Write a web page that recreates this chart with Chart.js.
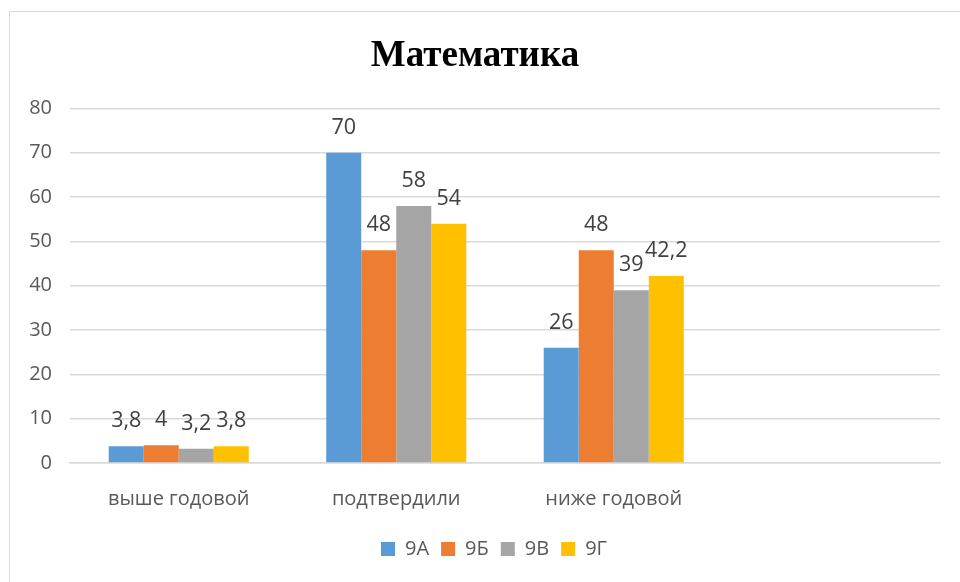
<!DOCTYPE html>
<html>
<head>
<meta charset="utf-8">
<script src="https://cdn.jsdelivr.net/npm/chart.js@4.4.0/dist/chart.umd.min.js"></script>
<style>
  html, body { margin:0; padding:0; background:#fff; }
  .frame { position:absolute; left:9px; top:11px; width:980px; height:600px; border:1px solid #d9d9d9; box-sizing:border-box; }
  .wrap { position:absolute; left:0; top:0; width:960px; height:582px; }
</style>
</head>
<body>
<div class="frame"></div>
<div class="wrap"><canvas id="chart"></canvas></div>
<script>
// -- DATA
const categories = ['выше годовой', 'подтвердили', 'ниже годовой', ''];
const series9A = [3.8, 70, 26, null];
const series9B = [4, 48, 48, null];
const series9V = [3.2, 58, 39, null];
const series9G = [3.8, 54, 42.2, null];
const seriesNames = ['9А', '9Б', '9В', '9Г'];
const yTicks = [0, 10, 20, 30, 40, 50, 60, 70, 80];

const colors = ['#5B9BD5', '#ED7D31', '#A5A5A5', '#FFC000'];
const textColor = '#595959';
const font = "'Open Sans', sans-serif";

// -- VALUE LABELS above bars
const valueLabels = {
  id: 'valueLabels',
  afterDatasetsDraw(chart) {
    const ctx = chart.ctx;
    ctx.save();
    ctx.font = "21.5px 'Open Sans', sans-serif";
    ctx.fillStyle = '#404040';
    ctx.textAlign = 'center';
    ctx.textBaseline = 'middle';
    chart.data.datasets.forEach((ds, di) => {
      chart.getDatasetMeta(di).data.forEach((bar, i) => {
        const v = ds.data[i];
        if (v === null) return;
        ctx.fillText(String(v).replace('.', ','), bar.x, bar.y - 25);
      });
    });
    ctx.restore();
  }
};

// -- nudge legend a bit to the right, as in the original
const legendShift = {
  id: 'legendShift',
  afterLayout(chart) {
    chart.legend.left += 19;
    chart.legend.right += 19;
  }
};

const seriesData = [series9A, series9B, series9V, series9G];

new Chart(document.getElementById('chart').getContext('2d'), {
  type: 'bar',
  data: {
    labels: categories,
    datasets: seriesData.map((d, i) => ({
      label: seriesNames[i],
      data: d,
      backgroundColor: colors[i],
      barPercentage: 1,
      categoryPercentage: 0.644
    }))
  },
  options: {
    responsive: true, maintainAspectRatio: false,
    animation: false,
    layout: { padding: { left: 10, right: 20, top: 0, bottom: 13 } },
    plugins: {
      title: {
        display: true, text: 'Математика', color: '#000',
        font: { family: "'Liberation Serif', 'Times New Roman', serif", size: 37, weight: 'bold' },
        padding: { top: 34, bottom: 30 }
      },
      legend: {
        position: 'bottom',
        labels: {
          color: textColor, boxWidth: 14, boxHeight: 14, padding: 12,
          font: { family: font, size: 20 }
        }
      },
      tooltip: { enabled: false }
    },
    scales: {
      x: {
        grid: { display: false }, border: { display: true, color: '#d9d9d9', width: 1.5 },
        ticks: { color: textColor, font: { family: font, size: 20 }, padding: 16, maxRotation: 0 }
      },
      y: {
        min: 0, max: 80,
        afterFit: s => { s.width = 60; },
        afterBuildTicks: s => { s.ticks = yTicks.map(v => ({ value: v })); },
        grid: { color: '#d9d9d9', lineWidth: 1.5, drawTicks: false },
        border: { display: false },
        ticks: { color: textColor, font: { family: font, size: 20 }, padding: 18 }
      }
    }
  },
  plugins: [valueLabels, legendShift]
});
</script>
</body>
</html>
